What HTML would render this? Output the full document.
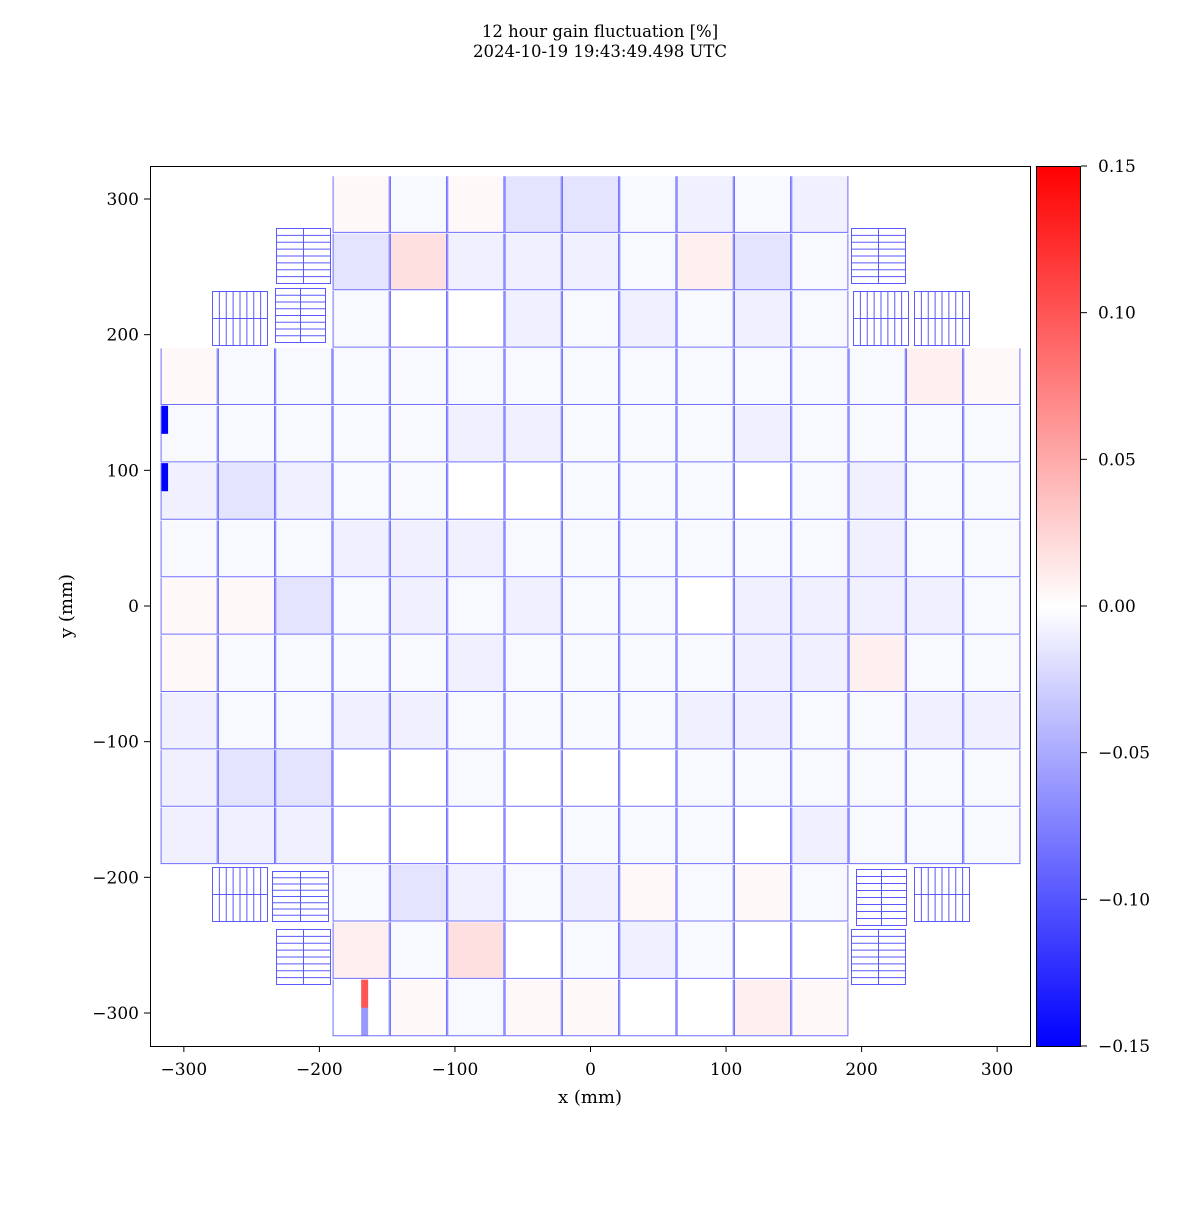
<!DOCTYPE html>
<html><head><meta charset="utf-8"><style>
body{margin:0;background:#fff}
svg text{font-family:"DejaVu Serif","Liberation Serif",serif;fill:#000}
</style></head><body>
<svg id="chart" width="1200" height="1200" xmlns="http://www.w3.org/2000/svg">
<rect width="1200" height="1200" fill="#fff"/>
<text x="600" y="37" text-anchor="middle" font-size="16.5">12 hour gain fluctuation [%]</text>
<text x="600" y="57" text-anchor="middle" font-size="16.5">2024-10-19 19:43:49.498 UTC</text>
<g id="tiles"></g>
<g id="corners"></g>
<rect x="150.5" y="166.5" width="880" height="880" fill="none" stroke="#000"/>
<g id="xaxis"></g>
<g id="yaxis"></g>
<text x="590" y="1103" text-anchor="middle" font-size="18">x (mm)</text>
<text transform="translate(72,606) rotate(-90)" text-anchor="middle" font-size="18">y (mm)</text>
<defs><linearGradient id="cg" x1="0" y1="1" x2="0" y2="0"><stop offset="0" stop-color="#0000ff"/><stop offset="0.5" stop-color="#ffffff"/><stop offset="1" stop-color="#ff0000"/></linearGradient></defs>
<rect x="1036.5" y="166.5" width="44" height="880" fill="url(#cg)" stroke="#000"/>
<g id="cbaxis"></g>
</svg>
<script>
const levelChars = ['a','b','c','d','e','f','g','h'];
const levelValues = [-0.025,-0.016,-0.009,-0.004,0,0.004,0.009,0.018];
const gridLevels = [
"...fdfbbdcdc...",
"...bhcccdgbd...",
"...deecdcdcd...",
"fddddddddddddgf",
"dddddccdddcdddd",
"cbcddeedddedcdd",
"dddcccddddddcdd",
"ffbdcdcddeccccd",
"fddddcddddccgdd",
"cddccddddccddcc",
"cbbeedeeedddddd",
"ccceeeedddecddd",
"...dbcdcfdfd...",
"...gdhedcdee...",
"...efdffeegf..."
];
const exceptions = [
 {row:4,col:0,amp:0,half:0,v:-0.15},
 {row:5,col:0,amp:0,half:0,v:-0.15},
 {row:14,col:3,amp:4,half:0,v:0.10},
 {row:14,col:3,amp:4,half:1,v:-0.06}
];
const xTicks=[-300,-200,-100,0,100,200,300];
const yTicks=[300,200,100,0,-100,-200,-300];
const cTicks=[0.15,0.10,0.05,0.00,-0.05,-0.10,-0.15];

const NS='http://www.w3.org/2000/svg';
const xs=mm=>590.5+mm*1.3555;
const ys=mm=>606-mm*1.3567;
const cs=v=>606-v/0.15*440;
function color(v){
  v=Math.max(-0.15,Math.min(0.15,v));
  if(v<0){const g=Math.round(255*(1+v/0.15));return `rgb(${g},${g},255)`;}
  const g=Math.round(255*(1-v/0.15));return `rgb(255,${g},${g})`;
}
function mk(tag,attrs,parent){const e=document.createElementNS(NS,tag);for(const k in attrs)e.setAttribute(k,attrs[k]);parent.appendChild(e);return e;}
const tiles=document.getElementById('tiles');
const pitch=42.3, size=41.4;
gridLevels.forEach((rowStr,r)=>{
  for(let c=0;c<rowStr.length;c++){
    const ch=rowStr[c]; if(ch==='.')continue;
    const v=levelValues[levelChars.indexOf(ch)];
    const cx=(c-7)*pitch, cy=(7-r)*pitch;
    const x0=xs(cx-size/2), x1=xs(cx+size/2), y0=ys(cy+size/2), y1=ys(cy-size/2);
    const g=mk('g',{},tiles);
    
    
    const aw=(x1-x0)/8, ah=(y1-y0)/2;
    for(let h=0;h<2;h++)for(let a=0;a<8;a++){
      const ex=exceptions.find(e=>e.row===r&&e.col===c&&e.amp===a&&e.half===h);
      const val=ex?ex.v:v;
      const cell=mk('rect',{x:x0+a*aw,y:y0+h*ah,width:aw+0.3,height:ah+0.3,fill:color(val)},g);
      
      
    }
    mk('path',{d:`M${x0},${y0}V${y1}H${x1}V${y0}`,fill:'none',stroke:'#6f6fff','stroke-width':1},g);
  }
});
const corners=[[276,228,54,55,'h'],[212,291,55,54,'v'],[275,288,50,54,'h'],[851,228,54,55,'h'],[853,291,55,54,'v'],[914,291,55,54,'v'],
 [212,867,55,54,'v'],[272,871,56,50,'h'],[276,929,54,55,'h'],[856,869,50,56,'h'],[914,867,55,54,'v'],[851,929,54,55,'h']];
const cg=document.getElementById('corners');
corners.forEach(([x,y,w,h,o])=>{
  const g=mk('g',{stroke:'#5a5aff','stroke-width':1,fill:'none'},cg);
  
  
  mk('rect',{x:x+0.5,y:y+0.5,width:w,height:h,fill:'#fff'},g);
  let d='';
  if(o==='h'){for(let i=1;i<8;i++)d+=`M${x},${y+0.5+i*h/8}h${w}`;d+=`M${x+0.5+w/2},${y}v${h}`;}
  else{for(let i=1;i<8;i++)d+=`M${x+0.5+i*w/8},${y}v${h}`;d+=`M${x},${y+0.5+h/2}h${w}`;}
  mk('path',{d},g);
});
const fmt=v=>(v<0?'\u2212':'')+Math.abs(v);
const xa=document.getElementById('xaxis');
xTicks.forEach(t=>{const x=xs(t);
  mk('line',{x1:x,x2:x,y1:1046,y2:1052,stroke:'#000'},xa);
  const tx=mk('text',{x:x,y:1075,'text-anchor':'middle','font-size':17},xa);tx.textContent=fmt(t);
  
  });
const ya=document.getElementById('yaxis');
yTicks.forEach(t=>{const y=ys(t);
  mk('line',{x1:144,x2:150,y1:y,y2:y,stroke:'#000'},ya);
  const tx=mk('text',{x:139,y:y+6,'text-anchor':'end','font-size':17},ya);tx.textContent=fmt(t);
  
  });
const ca=document.getElementById('cbaxis');
cTicks.forEach(t=>{const y=cs(t);
  mk('line',{x1:1081,x2:1087,y1:y,y2:y,stroke:'#000'},ca);
  const tx=mk('text',{x:1098,y:y+6,'font-size':17},ca);tx.textContent=(t<0?'\u2212':'')+Math.abs(t).toFixed(2);
  
  });
</script>
</body></html>
